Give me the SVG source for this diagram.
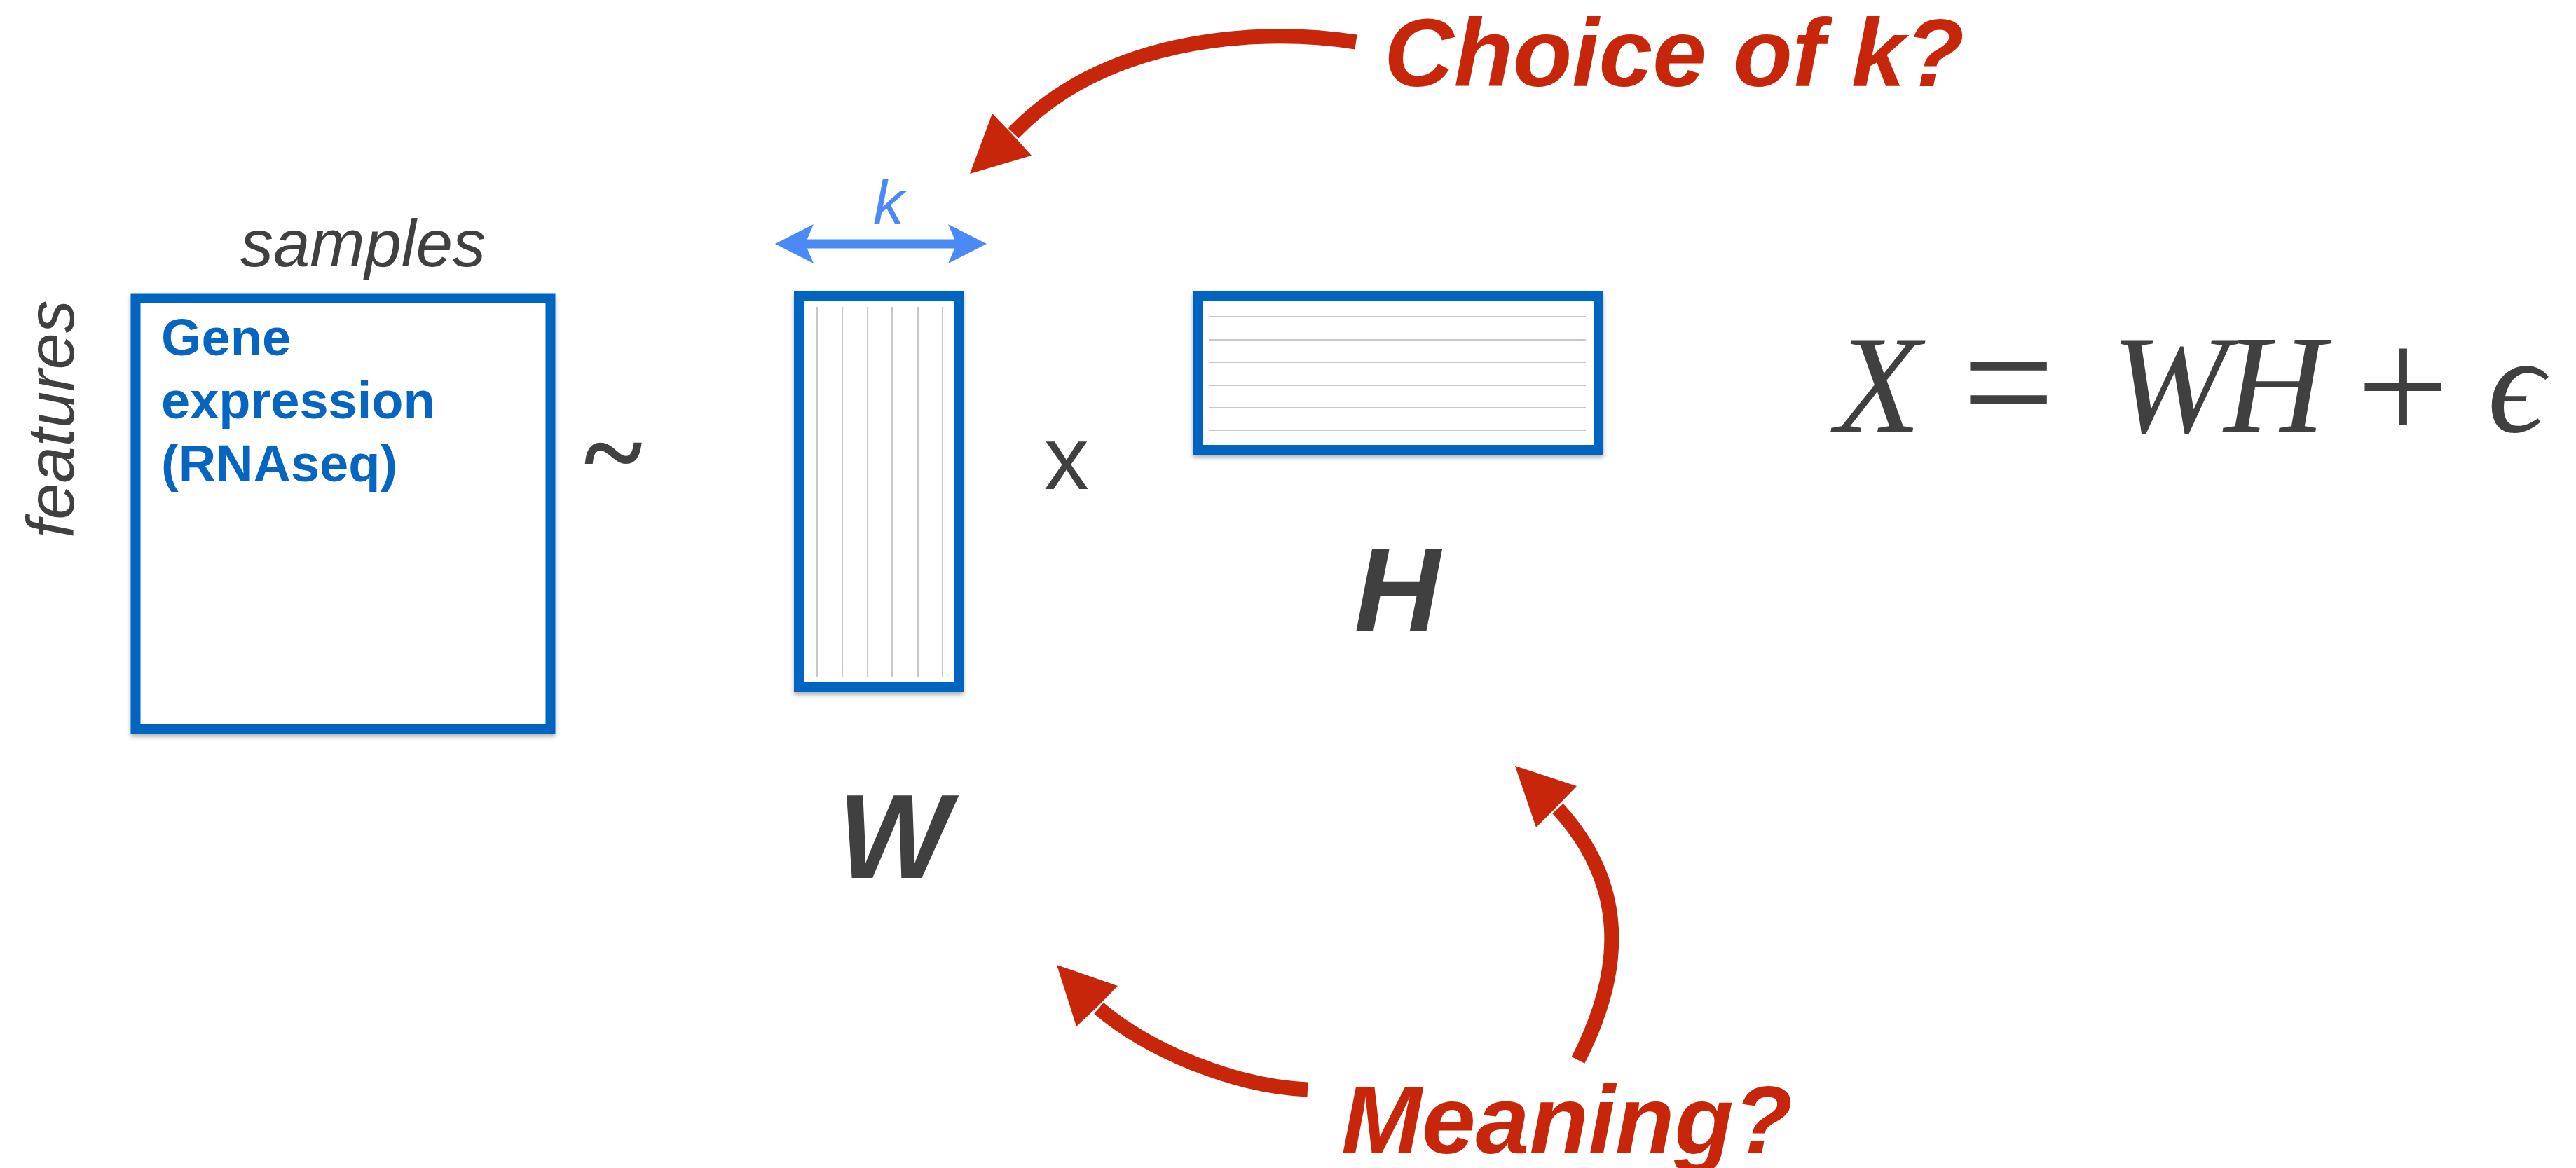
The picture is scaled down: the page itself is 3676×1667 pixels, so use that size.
<svg xmlns="http://www.w3.org/2000/svg" width="3676" height="1667" viewBox="0 0 3676 1667">
<defs>
<style>
.mat{fill:#ffffff;stroke:#0565C1;stroke-width:14;filter:url(#sh);}
.grid{stroke:#c8c8c8;stroke-width:2;}
.lbl{font-family:"Liberation Sans",Arial,sans-serif;fill:#404040;}
.big{font-family:"Liberation Sans",Arial,sans-serif;font-weight:bold;font-style:italic;fill:#404040;font-size:170px;text-anchor:middle;}
.red{font-family:"Liberation Sans",Arial,sans-serif;font-weight:bold;font-style:italic;fill:#C8260B;font-size:138px;}
.math{font-family:"Liberation Serif","DejaVu Serif",serif;fill:#404040;font-size:200px;text-anchor:middle;}
.op{font-size:235px;}
.it{font-style:italic;}
.rs{fill:none;stroke:#C8260B;stroke-width:21;}
.rh{fill:#C8260B;}
</style>
<filter id="sh" x="-5%" y="-5%" width="110%" height="115%">
<feDropShadow dx="0" dy="4" stdDeviation="3" flood-color="#000" flood-opacity="0.3"/>
</filter>
</defs>
<rect width="3676" height="1667" fill="#ffffff"/>

<g id="node-X">
<rect class="mat" x="193.5" y="425.5" width="592" height="615"/>
<text class="lbl" x="518" y="380" font-size="94" font-style="italic" text-anchor="middle">samples</text>
<text class="lbl" x="105" y="598" font-size="94" font-style="italic" text-anchor="middle" transform="rotate(-90 105 598)">features</text>
<text font-family="Liberation Sans,Arial,sans-serif" font-weight="bold" font-size="74" fill="#0565C1"><tspan x="230" y="507">Gene</tspan><tspan x="230" y="597">expression</tspan><tspan x="230" y="687">(RNAseq)</tspan></text>
</g>

<g id="op-approx">
<text x="875" y="700" font-family="Liberation Serif,serif" font-weight="bold" font-size="160" fill="#404040" text-anchor="middle">~</text>
</g>

<g id="node-W">
<rect class="mat" x="1140" y="423" width="228" height="558"/>
<g class="grid">
<line x1="1166" y1="438" x2="1166" y2="966"/>
<line x1="1202" y1="438" x2="1202" y2="966"/>
<line x1="1238" y1="438" x2="1238" y2="966"/>
<line x1="1273" y1="438" x2="1273" y2="966"/>
<line x1="1310" y1="438" x2="1310" y2="966"/>
<line x1="1345" y1="438" x2="1345" y2="966"/>
</g>
<text class="big" x="1276" y="1253">W</text>
</g>

<g id="k-dim">
<line x1="1145" y1="348" x2="1370" y2="348" stroke="#4A8AF5" stroke-width="13"/>
<polygon points="1106,348 1161,320 1149,348 1161,376" fill="#4A8AF5"/>
<polygon points="1408,348 1353,320 1365,348 1353,376" fill="#4A8AF5"/>
<text x="1268" y="319" font-family="Liberation Sans,Arial,sans-serif" font-style="italic" font-size="88" fill="#4A8AF5" text-anchor="middle">k</text>
</g>

<g id="op-times">
<text class="lbl" x="1522" y="698" font-size="128" text-anchor="middle">x</text>
</g>

<g id="node-H">
<rect class="mat" x="1709" y="423" width="572" height="219"/>
<g class="grid">
<line x1="1725" y1="452" x2="2263" y2="452"/>
<line x1="1725" y1="485" x2="2263" y2="485"/>
<line x1="1725" y1="517" x2="2263" y2="517"/>
<line x1="1725" y1="550" x2="2263" y2="550"/>
<line x1="1725" y1="582" x2="2263" y2="582"/>
<line x1="1725" y1="614" x2="2263" y2="614"/>
</g>
<text class="big" x="1994" y="900">H</text>
</g>

<g id="formula">
<text class="math it" x="2680" y="616">X</text>
<text class="math op" x="2866" y="625">=</text>
<text class="math it" x="3096" y="616">W</text>
<text class="math it" x="3246" y="616">H</text>
<text class="math op" x="3429" y="630">+</text>
<text class="math it" x="3590" y="616">ϵ</text>
</g>

<g id="note-choice">
<text class="red" x="1975" y="123">Choice of k?</text>
</g>
<g id="note-meaning">
<text class="red" x="1914" y="1646">Meaning?</text>
</g>

<g id="connectors">
<path class="rs" d="M1935,60 C1780,36 1570,60 1446,190"/>
<polygon class="rh" points="1384,248 1416,162 1444,191 1472,222"/>
<path class="rs" d="M1866,1555 C1760,1550 1640,1500 1568,1439"/>
<polygon class="rh" points="1508,1377 1595,1407 1566,1437 1536,1465"/>
<path class="rs" d="M2252,1513 C2320,1380 2320,1260 2223,1154"/>
<polygon class="rh" points="2162,1093 2250,1122 2221,1152 2192,1181"/>
</g>
</svg>
